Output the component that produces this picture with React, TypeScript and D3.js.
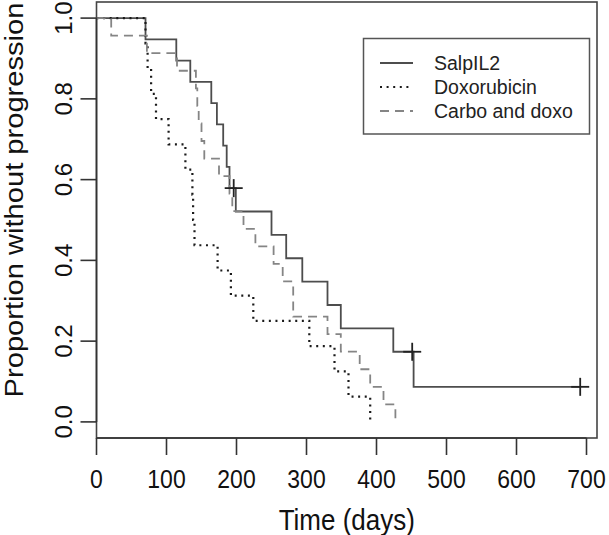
import React from "react";
import * as d3 from "d3";

const W = 609;
const H = 535;

// Kaplan–Meier input data (time in days, status 1 = progression, 0 = censored)
const salpTimes = [70, 114, 134, 164, 172, 181, 186, 190, 196, 199, 250, 271, 294, 330, 349, 424, 451, 453, 691];
const salpStatus = [1, 1, 1, 1, 1, 1, 1, 1, 0, 1, 1, 1, 1, 1, 1, 1, 0, 1, 0];
const doxoTimes = [70, 73, 78, 85, 103, 127, 137, 138, 140, 173, 192, 224, 304, 340, 360, 391];
const doxoStatus = [1, 1, 1, 1, 1, 1, 1, 1, 1, 1, 1, 1, 1, 1, 1, 1];
const carboTimes = [21, 72, 115, 142, 144, 146, 150, 154, 175, 190, 194, 210, 227, 253, 266, 281, 281, 330, 349, 376, 391, 410, 427];
const carboStatus = [1, 1, 1, 1, 1, 1, 1, 1, 1, 1, 1, 1, 1, 1, 1, 1, 1, 1, 1, 1, 1, 1, 1];

const seriesNames = ["SalpIL2", "Doxorubicin", "Carbo and doxo"];
const xTicks = [0, 100, 200, 300, 400, 500, 600, 700];
const yTicks = [0, 0.2, 0.4, 0.6, 0.8, 1.0];

type Pt = { t: number; s: number };

function kaplanMeier(times: number[], status: number[]) {
  const idx = times.map((_, i) => i).sort((a, b) => times[a] - times[b]);
  let atRisk = times.length;
  let s = 1;
  const pts: Pt[] = [{ t: 0, s: 1 }];
  const cens: Pt[] = [];
  let i = 0;
  while (i < idx.length) {
    const t = times[idx[i]];
    let d = 0;
    let c = 0;
    while (i < idx.length && times[idx[i]] === t) {
      if (status[idx[i]] === 1) d++;
      else c++;
      i++;
    }
    if (d > 0) {
      s = s * (1 - d / atRisk);
      pts.push({ t, s });
    }
    if (c > 0) {
      cens.push({ t, s });
    }
    atRisk -= d + c;
  }
  const last = times[idx[idx.length - 1]];
  if (pts[pts.length - 1].t < last) pts.push({ t: last, s });
  return { pts, cens };
}

const styles = [
  { stroke: "#4d4d4d", width: 1.8, dash: "" },
  { stroke: "#1a1a1a", width: 2.2, dash: "2,4.6" },
  { stroke: "#858585", width: 1.8, dash: "9,6" },
];

export default function App() {
  const left = 96.5;
  const right = 597;
  const top = 2;
  const bottom = 438;
  const x = d3.scaleLinear().domain([0, 700]).range([left, 586.5]);
  const y = d3.scaleLinear().domain([0, 1]).range([421.9, 18.1]);

  const groups = [
    kaplanMeier(salpTimes, salpStatus),
    kaplanMeier(doxoTimes, doxoStatus),
    kaplanMeier(carboTimes, carboStatus),
  ];

  const line = d3
    .line<Pt>()
    .x((d) => x(d.t))
    .y((d) => y(d.s))
    .curve(d3.curveStepAfter);

  const font = "'Liberation Sans', Arial, Helvetica, sans-serif";
  const axisCol = "#333";

  return (
    <svg width={W} height={H} style={{ display: "block", position: "absolute", left: 0, top: 0, background: "#fff" }}>
      <rect x={0} y={0} width={W} height={H} fill="#fff" />
      {/* plot box */}
      <rect x={left} y={top} width={right - left} height={bottom - top} fill="none" stroke="#444" strokeWidth={1.6} />

      {/* curves */}
      {groups.map((g, i) => (
        <path
          key={"c" + i}
          d={line(g.pts) || ""}
          fill="none"
          stroke={styles[i].stroke}
          strokeWidth={styles[i].width}
          strokeDasharray={styles[i].dash || undefined}
        />
      ))}
      {/* censor marks */}
      {groups.map((g, i) =>
        g.cens.map((c, j) => (
          <g key={"m" + i + "-" + j} stroke="#222" strokeWidth={1.8}>
            <line x1={x(c.t) - 9} x2={x(c.t) + 9} y1={y(c.s)} y2={y(c.s)} />
            <line x1={x(c.t)} x2={x(c.t)} y1={y(c.s) - 9} y2={y(c.s) + 9} />
          </g>
        ))
      )}

      {/* x axis */}
      <line x1={x(0)} x2={x(700)} y1={bottom} y2={bottom} stroke={axisCol} strokeWidth={1.6} />
      {xTicks.map((t) => (
        <g key={"xt" + t}>
          <line x1={x(t)} x2={x(t)} y1={bottom} y2={bottom + 17} stroke={axisCol} strokeWidth={1.6} />
          <text
            transform={`translate(${x(t)},488) scale(1,1.15)`}
            textAnchor="middle"
            fontFamily={font}
            fontSize={23}
            fill="#111"
          >
            {t}
          </text>
        </g>
      ))}
      <text
        transform={`translate(${(left + right) / 2},530) scale(1,1.12)`}
        textAnchor="middle"
        fontFamily={font}
        fontSize={26}
        fill="#111"
      >
        Time (days)
      </text>

      {/* y axis */}
      <line x1={left} x2={left} y1={y(0)} y2={y(1)} stroke={axisCol} strokeWidth={1.6} />
      {yTicks.map((t) => (
        <g key={"yt" + t}>
          <line x1={left} x2={left - 16} y1={y(t)} y2={y(t)} stroke={axisCol} strokeWidth={1.6} />
          <text
            transform={`translate(72,${y(t)}) rotate(-90)`}
            textAnchor="middle"
            fontFamily={font}
            fontSize={24}
            fill="#111"
          >
            {t.toFixed(1)}
          </text>
        </g>
      ))}
      <text
        transform={`translate(23,200) rotate(-90) scale(1.12,1)`}
        textAnchor="middle"
        fontFamily={font}
        fontSize={26}
        fill="#111"
      >
        Proportion without progression
      </text>

      {/* legend */}
      <rect x={363.5} y={38.5} width={226} height={95.5} fill="#fff" stroke="#555" strokeWidth={1.5} />
      {seriesNames.map((n, i) => (
        <g key={"lg" + i}>
          <line
            x1={380}
            x2={413}
            y1={63 + i * 24}
            y2={63 + i * 24}
            stroke={styles[i].stroke}
            strokeWidth={styles[i].width}
            strokeDasharray={styles[i].dash || undefined}
          />
          <text x={434} y={63 + i * 24} dominantBaseline="central" fontFamily={font} fontSize={19.5} fill="#222">
            {n}
          </text>
        </g>
      ))}
    </svg>
  );
}
